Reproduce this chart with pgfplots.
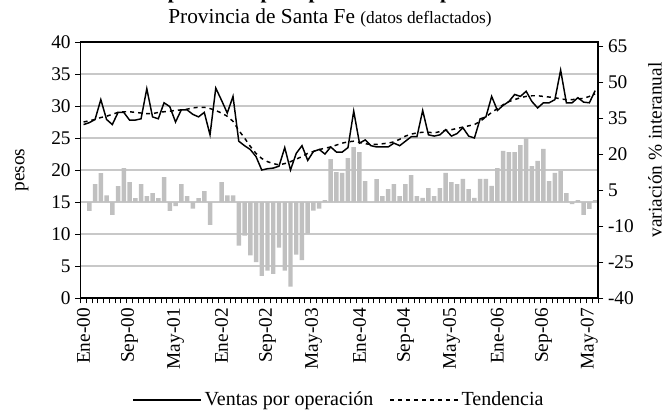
\documentclass[border=0pt]{standalone}
\usepackage{fontspec}
\setmainfont{Liberation Serif}
\usepackage{pgfplots}
\usepackage{pgfplotstable}
\pgfplotsset{compat=1.18}
\definecolor{barg}{RGB}{192,192,192}
\definecolor{gridg}{RGB}{200,200,200}

\pgfplotstableread{
x v t b
0 27.1 27.5 nan
1 27.4 27.7 -3.7
2 27.9 27.9 7.4
3 31.0 28.2 12.0
4 27.9 28.4 2.8
5 27.1 28.7 -5.4
6 29.0 29.0 6.6
7 29.0 29.1 14.1
8 27.8 29.1 8.3
9 27.8 29.0 1.6
10 28.0 28.9 7.4
11 32.7 28.8 2.4
12 28.3 28.8 3.7
13 28.0 29.0 1.6
14 30.5 29.1 10.4
15 29.9 29.2 -3.7
16 27.5 29.3 -1.7
17 29.4 29.4 7.4
18 29.4 29.5 2.4
19 28.7 29.7 -2.8
20 28.3 29.8 1.6
21 29.0 29.8 4.5
22 25.5 29.6 -9.5
23 32.8 29.3 0
24 30.9 28.9 8.3
25 28.9 28.4 2.8
26 31.5 27.6 2.8
27 24.5 26.2 -18.2
28 23.8 25.0 -14.0
29 23.2 23.7 -22.2
30 22.1 22.6 -25.0
31 20.0 21.8 -30.8
32 20.2 21.3 -28.6
33 20.3 21.0 -29.9
34 20.6 20.8 -19.0
35 23.5 21.0 -28.6
36 20.0 21.3 -35.3
37 22.6 21.7 -21.9
38 23.8 22.1 -24.2
39 21.5 22.6 -13.2
40 22.9 22.9 -3.6
41 23.2 23.2 -2.8
42 22.5 23.4 0.8
43 23.6 23.6 17.9
44 22.8 23.9 12.4
45 22.8 24.2 12.1
46 23.5 24.4 18.3
47 29.2 24.5 22.9
48 24.2 24.3 20.8
49 24.7 24.1 8.7
50 23.8 24.0 0
51 23.6 24.0 9.5
52 23.6 24.1 2.5
53 23.6 24.2 5.4
54 24.2 24.4 7.5
55 23.8 24.8 2.5
56 24.5 25.3 7.5
57 25.2 25.6 11.2
58 25.2 25.8 2.5
59 29.3 25.9 1.7
60 25.5 25.9 5.8
61 25.3 25.8 2.5
62 25.5 26.0 5.8
63 26.3 26.2 12.1
64 25.3 26.3 8.3
65 25.7 26.5 7.5
66 26.6 26.7 9.6
67 25.3 26.9 5.4
68 25.0 27.1 1.7
69 28.0 27.6 9.6
70 28.3 28.3 9.6
71 31.5 29.0 6.7
72 29.3 29.6 14.1
73 30.1 30.2 21.3
74 30.7 30.7 20.8
75 31.8 31.0 20.8
76 31.5 31.3 23.7
77 32.3 31.5 26.6
78 30.7 31.6 15.0
79 29.7 31.6 17.1
80 30.5 31.5 22.1
81 30.5 31.4 8.7
82 31.0 31.3 12.1
83 35.6 31.1 12.9
84 30.5 31.0 3.7
85 30.5 31.0 -0.9
86 31.3 31.1 0.8
87 30.6 31.2 -5.4
88 30.5 31.5 -2.9
89 32.4 31.9 0.8
}\data

\begin{document}
\begin{tikzpicture}
\pgfplotsset{
  base/.style={
    scale only axis, width=387.975pt, height=192pt,
    xmin=-0.5, xmax=89.5,
    tick align=outside,
    /pgf/number format/assume math mode=true,
    tick label style={font=\fontsize{14.5}{17}\selectfont},
    axis line style={black, line width=0.8pt},
    major tick length=4pt, minor tick length=4pt,
    every tick/.style={black, line width=0.7pt},
  }
}
% bars, right axis
\begin{axis}[base,
  axis x line=none,
  axis y line*=right,
  ymin=-40, ymax=66.6667,
  ytick={-40,-25,-10,5,20,35,50,65},
  extra y ticks={-26.6667,-13.3333,0,13.3333,26.6667,40,53.3333},
  extra y tick labels={},
  extra y tick style={grid=major, major tick length=0pt, grid style={gridg, line width=0.9pt}},
  every axis y label/.style={at={(axis description cs:1.11,0.578)}, anchor=center, rotate=90, font=\fontsize{14.5}{17}\selectfont},
  ylabel={variación \% interanual},
  clip=false,
]
\addplot[ybar, bar width=0.78, fill=barg, draw=none] table[x=x, y=b] {\data};
\end{axis}
% lines, left axis
\begin{axis}[base,
  ymin=0, ymax=40, ytick={0,5,...,40},
  ytick pos=left, xtick pos=bottom,
  xtick={0,8,...,88},
  xticklabels={Ene-00,Sep-00,May-01,Ene-02,Sep-02,May-03,Ene-04,Sep-04,May-05,Ene-06,Sep-06,May-07},
  minor xtick={-0.5,0.5,...,89.5},
  major x tick style={draw=none},
  xticklabel style={rotate=90, anchor=east},
  every axis y label/.style={at={(axis description cs:-0.1135,0.5)}, anchor=center, rotate=90, font=\fontsize{14.5}{17}\selectfont},
  ylabel={pesos},
  clip=false,
  legend style={at={(axis description cs:0.5,-0.398)}, anchor=center, draw=none, fill=none,
    legend columns=2, font=\fontsize{15}{17}\selectfont, inner sep=0pt,
    /tikz/every even column/.append style={column sep=10pt}},
  legend image code/.code={\draw[#1] (0pt,0pt) -- (51pt,0pt);},
]
\addplot[black, line width=1.1pt] table[x=x, y=v] {\data};
\addlegendentry{Ventas por operación}
\addplot[black, line width=1.1pt, dash pattern=on 3pt off 3pt] table[x=x, y=t] {\data};
\addlegendentry{Tendencia}
\node[anchor=base] at (axis description cs:0.482,1.074) {\fontsize{16}{19}\selectfont Provincia de Santa Fe {\fontsize{13}{15}\selectfont (datos deflactados)}};
\node[anchor=base] at (axis description cs:0.482,1.17) {\fontsize{16}{19}\selectfont\bfseries Ventas promedio por operación en supermercados};
\end{axis}
\pgfresetboundingbox
\useasboundingbox (-60.525pt,-84.75pt) rectangle (438.975pt,223.5pt);
\end{tikzpicture}
\end{document}
